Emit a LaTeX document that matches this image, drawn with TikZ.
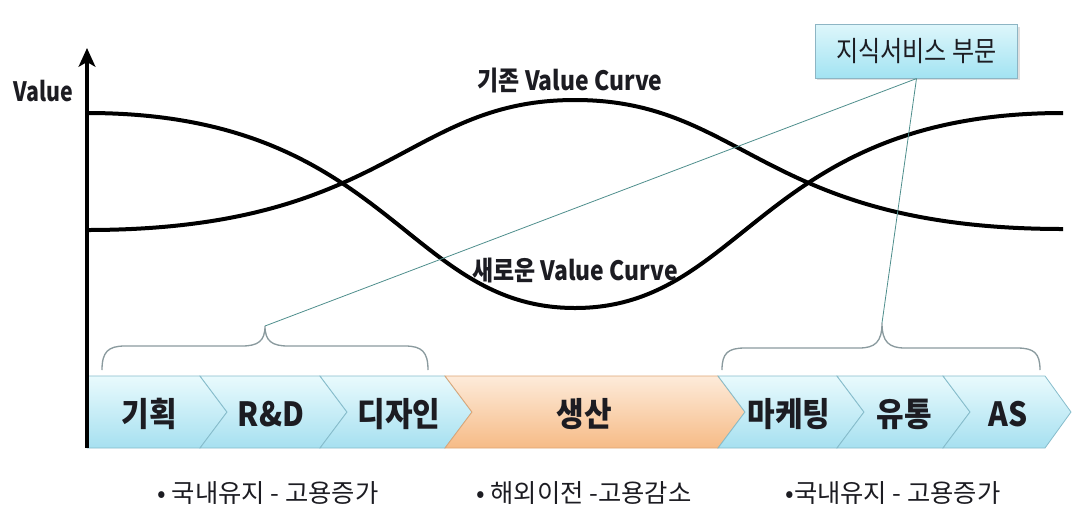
\documentclass[tikz,border=0pt]{standalone}
\usepackage{fontspec}
\newfontfamily\kr[FakeStretch=0.86]{Noto Sans CJK KR}
\newfontfamily\krv[FakeStretch=0.8]{Noto Sans CJK KR}
\newfontfamily\krc[FakeStretch=0.9]{Noto Sans CJK KR}
\newfontfamily\krn{Noto Sans CJK KR}
\usetikzlibrary{arrows.meta,shadows}
\definecolor{cyanT}{HTML}{E9FAFD}
\definecolor{cyanB}{HTML}{A6E0F0}
\definecolor{cyanE}{HTML}{86BCCB}
\definecolor{orT}{HTML}{FDEBDA}
\definecolor{orB}{HTML}{F6BB86}
\definecolor{orE}{HTML}{DDA575}
\definecolor{boxT}{HTML}{DDF6FB}
\definecolor{boxB}{HTML}{A2E3F2}
\definecolor{boxE}{HTML}{8DB5C4}
\definecolor{callc}{HTML}{4E8E8C}
\definecolor{bracec}{HTML}{8A9A9E}
\definecolor{txt}{HTML}{1C1C22}
\begin{document}
\begin{tikzpicture}[x=0.75pt,y=-0.75pt,
  curve/.style={line width=3pt,black},
  chevc/.style={draw=cyanE,line width=0.6pt,top color=cyanT,bottom color=cyanB},
  chevo/.style={draw=orE,line width=0.6pt,top color=orT,bottom color=orB},
  chevlabel/.style={font=\krc\bfseries\fontsize{25}{29}\selectfont,text=txt},
  curvelabel/.style={font=\kr\bfseries\fontsize{20}{24}\selectfont,text=txt},
  bottomlabel/.style={font=\krn\fontsize{19}{23}\selectfont,text=txt},
  bracestyle/.style={draw=bracec,line width=1pt},
  callline/.style={draw=callc,line width=0.6pt},
  callbox/.style={draw=boxE,line width=0.6pt,top color=boxT,bottom color=boxB,
    minimum width=152pt,minimum height=40pt,inner sep=0pt,
    font=\kr\fontsize{21}{25}\selectfont,text=txt,
    drop shadow={opacity=0.25,shadow xshift=1.5pt,shadow yshift=-1.5pt}}
]
\useasboundingbox (0,0) rectangle (1072,512);

% chevrons
\path[chevc] (87,376) -- (200,376) -- (227,412) -- (200,448) -- (87,448) -- cycle;
\path[chevc] (200,376) -- (320,376) -- (347,412) -- (320,448) -- (200,448) -- (227,412) -- cycle;
\path[chevc] (320,376) -- (445,376) -- (472,412) -- (445,448) -- (320,448) -- (347,412) -- cycle;
\path[chevo] (445,376) -- (718,376) -- (745,412) -- (718,448) -- (445,448) -- (472,412) -- cycle;
\path[chevc] (718,376) -- (837,376) -- (864,412) -- (837,448) -- (718,448) -- (745,412) -- cycle;
\path[chevc] (837,376) -- (943,376) -- (970,412) -- (943,448) -- (837,448) -- (864,412) -- cycle;
\path[chevc] (943,376) -- (1045,376) -- (1071,412) -- (1045,448) -- (943,448) -- (970,412) -- cycle;

\node[chevlabel] (c1) at (149,414) {기획};
\node[chevlabel] (c2) at (271,414) {R\&D};
\node[chevlabel] (c3) at (399,414) {디자인};
\node[chevlabel] (c4) at (584,414) {생산};
\node[chevlabel] (c5) at (789,414) {마케팅};
\node[chevlabel] (c6) at (904,414) {유통};
\node[chevlabel] (c7) at (1008,414) {AS};

% bottom labels
\node[bottomlabel] (b1) at (268,493) {• 국내유지 - 고용증가};
\node[bottomlabel] (b2) at (584,493) {• 해외이전 -고용감소};
\node[bottomlabel] (b3) at (893,493) {•국내유지 - 고용증가};

% braces
\coordinate (lb) at (265,326);
\coordinate (rb) at (882,323);
\draw[bracestyle] (102,370) .. controls (102,352) and (108,346) .. (125,346) -- (242,346)
  .. controls (258,346) and (265,341) .. (lb) .. controls (265,341) and (272,346) .. (288,346)
  -- (405,346) .. controls (422,346) and (428,352) .. (428,370);
\draw[bracestyle] (722,370) .. controls (722,353) and (728,348) .. (745,348) -- (859,348)
  .. controls (875,348) and (882,342) .. (rb) .. controls (882,342) and (889,348) .. (905,348)
  -- (1017,348) .. controls (1034,348) and (1040,353) .. (1040,370);

% curves
\draw[curve] (87,113) .. controls (388,113) and (405,308) .. (575,308)
  .. controls (745,308) and (762,113) .. (1063,113);
\draw[curve] (87,230) .. controls (388,230) and (405,100) .. (575,100)
  .. controls (745,100) and (762,229) .. (1063,229);

\node[curvelabel] (old) at (570,80) {기존 Value Curve};
\node[curvelabel] (new) at (575,270) {새로운 Value Curve};

% callout
\node[callbox] (ks) at (916.5,51.5) {지식서비스 부문};
\draw[callline] (ks.south) -- (lb);
\draw[callline] (ks.south) -- (rb);

% axis
\coordinate (ax0) at (87,448);
\coordinate (ax1) at (87,48);
\draw[line width=3pt,-{Stealth[length=14pt,width=12.5pt,inset=3.5pt]}] (ax0) -- (ax1);
\node[font=\krv\bfseries\fontsize{20}{24}\selectfont,text=txt] (val) at (43,91) {Value};
\end{tikzpicture}
\end{document}
